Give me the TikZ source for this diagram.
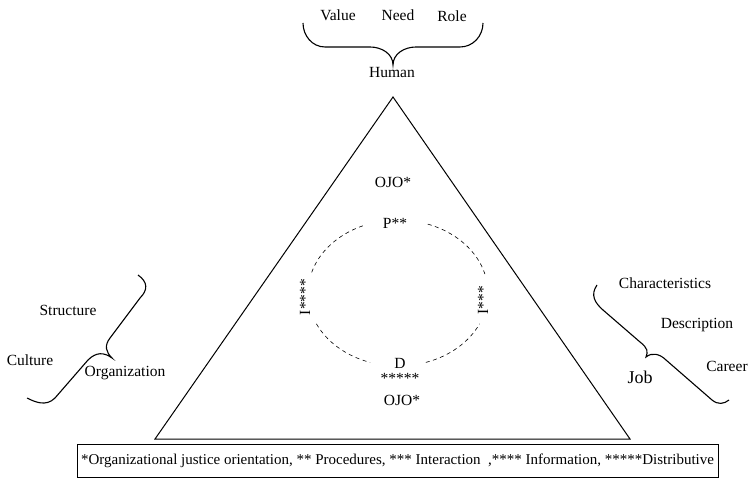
\documentclass[tikz,border=0pt]{standalone}
\usepackage{fontspec}
\setmainfont{Liberation Serif}
\newcommand{\dashedarc}[2]{\draw[dash pattern=on 4pt off 3.5pt,line width=0.6pt] (398,293) ++({90*cos(#1)},{73*sin(#1)}) arc[start angle=#1,end angle=#2,x radius=90,y radius=73];}
\begin{document}
\begin{tikzpicture}[x=1pt,y=-1pt,lbl/.style={inner sep=0pt,font=\fontsize{15.5}{17}\selectfont},brace/.style={line width=1.1pt}]
\useasboundingbox (0,0) rectangle (751,478);
\draw[line width=1pt] (393,97) -- (155,439) -- (630,439) -- cycle;
% human
\node[lbl] (value) at (338,15) {Value}; \node[lbl] (need) at (398,15) {Need}; \node[lbl] (role) at (452,16) {Role};
\draw[brace] (303,23) to[out=-90,in=180] (325,47) -- (370,47) to[out=0,in=90] (393,65) to[out=90,in=180] (416,47) -- (460,47) to[out=0,in=-90] (483,23);
\node[lbl] (human) at (392,73) {Human};
% organization
\node[lbl] (structure) at (68,310) {Structure}; \node[lbl] (culture) at (30,360) {Culture}; \node[lbl] (organization) at (125,373) {Organization};
\draw[brace] (138,275) .. controls (148,282) and (148,290) .. (140,298) -- (110,338) .. controls (104,346) and (106,352) .. (112,358) .. controls (104,352) and (96,352) .. (88,360) -- (55,398) .. controls (46,407) and (35,402) .. (27,398);
% job
\node[lbl] (characteristics) at (665,283) {Characteristics}; \node[lbl] (description) at (697,325) {Description}; \node[lbl] (career) at (727,366) {Career};
\node[inner sep=0pt,font=\fontsize{18}{20}\selectfont] (job) at (640,377) {Job};
\draw[brace] (597,285) .. controls (590,295) and (595,303) .. (603,310) -- (640,342) .. controls (648,348) and (648,352) .. (646,357) .. controls (652,352) and (660,354) .. (666,360) -- (712,400) .. controls (718,405) and (724,404) .. (729,400);
% justice circle
\node[lbl] (ojotop) at (393,182) {OJO*}; \node[lbl] (proc) at (395,223) {P**};
\node[lbl,rotate=90] (info) at (305,297) {I****}; \node[lbl,rotate=90] (inter) at (483,300) {I***};
\node[lbl] (dist) at (400,363) {D}; \node[lbl] (stars) at (400,378) {*****}; \node[lbl] (ojobot) at (402,400) {OJO*};
\dashedarc{-113}{-165} \dashedarc{-15}{-71} \dashedarc{-205}{-252} \dashedarc{-288}{-335}
\node[draw,line width=0.8pt,minimum width=641pt,minimum height=33pt,inner sep=0pt,font=\fontsize{15}{17}\selectfont] (note) at (397.5,460.5) {*Organizational justice orientation, ** Procedures, *** Interaction\ \ ,**** Information, *****Distributive};
\end{tikzpicture}
\end{document}
